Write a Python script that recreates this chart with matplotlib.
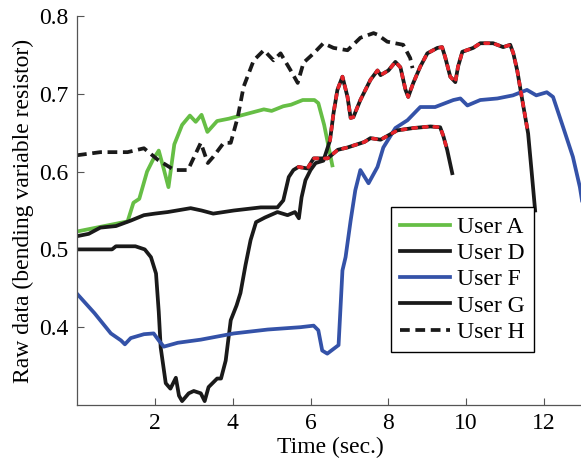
import numpy as np
import matplotlib.pyplot as plt

plt.rcParams['font.family'] = ['Liberation Serif', 'DejaVu Serif']
plt.rcParams['mathtext.fontset'] = 'stix'

# User A (green)
a_x = [0, 0.4, 0.8, 1.3, 1.45, 1.6, 1.8, 1.95, 2.1, 2.22, 2.35, 2.5, 2.7, 2.9,
       3.05, 3.2, 3.35, 3.6, 3.9, 4.2, 4.5, 4.8, 5.0, 5.3, 5.5, 5.8, 6.1, 6.2,
       6.35, 6.56]
a_y = [0.523, 0.527, 0.531, 0.536, 0.56, 0.565, 0.6, 0.615, 0.627, 0.605, 0.58,
       0.635, 0.66, 0.672, 0.664, 0.673, 0.651, 0.665, 0.668, 0.672, 0.676, 0.68,
       0.678, 0.684, 0.686, 0.692, 0.692, 0.688, 0.66, 0.608]

# User D (black, drops to 0.3 then climbs)
d_x = [0, 0.5, 0.9, 1.0, 1.5, 1.74, 1.9, 2.03, 2.1, 2.15, 2.28, 2.4, 2.54, 2.62,
       2.7, 2.87, 3.0, 3.18, 3.28, 3.38, 3.6, 3.7, 3.82, 3.95, 4.1, 4.2, 4.33,
       4.46, 4.6, 4.83, 5.15, 5.41, 5.6, 5.7, 5.77, 5.87, 6.0, 6.13, 6.33, 6.5,
       6.59, 6.69, 6.82, 6.95, 7.03, 7.1, 7.28, 7.54, 7.72, 7.8, 8.0, 8.18, 8.31,
       8.44, 8.51, 8.64, 8.82, 9.0, 9.26, 9.38, 9.46, 9.59, 9.72, 9.79, 9.9,
       10.18, 10.36, 10.69, 10.95, 11.13, 11.21, 11.31, 11.44, 11.59, 11.68, 11.77]
d_y = [0.5, 0.5, 0.5, 0.504, 0.504, 0.5, 0.49, 0.469, 0.42, 0.374, 0.328, 0.321,
       0.335, 0.312, 0.305, 0.315, 0.318, 0.315, 0.305, 0.323, 0.334, 0.334,
       0.357, 0.409, 0.428, 0.444, 0.48, 0.512, 0.535, 0.541, 0.548, 0.544, 0.548,
       0.54, 0.567, 0.589, 0.602, 0.611, 0.614, 0.64, 0.675, 0.705, 0.722, 0.696,
       0.669, 0.67, 0.692, 0.718, 0.73, 0.724, 0.73, 0.741, 0.734, 0.705, 0.696,
       0.714, 0.735, 0.752, 0.759, 0.76, 0.747, 0.722, 0.715, 0.735, 0.754, 0.759,
       0.765, 0.765, 0.76, 0.763, 0.752, 0.73, 0.692, 0.649, 0.6, 0.55]
d_red = (6.45, 11.6)

# User F (blue)
f_x = [0, 0.45, 0.87, 1.13, 1.23, 1.38, 1.72, 1.97, 2.1, 2.23, 2.59, 3.18, 4.03,
       4.9, 5.74, 6.08, 6.2, 6.3, 6.43, 6.72, 6.82, 6.9, 7.03, 7.15, 7.28, 7.49,
       7.72, 7.87, 8.18, 8.49, 8.82, 9.2, 9.67, 9.85, 10.03, 10.36, 10.8, 11.2,
       11.56, 11.8, 12.07, 12.23, 12.49, 12.74, 12.92, 13.0]
f_y = [0.443, 0.418, 0.392, 0.383, 0.378, 0.386, 0.391, 0.392, 0.383, 0.375,
       0.38, 0.384, 0.392, 0.397, 0.4, 0.402, 0.396, 0.37, 0.366, 0.377, 0.473,
       0.49, 0.537, 0.576, 0.602, 0.585, 0.606, 0.631, 0.656, 0.666, 0.683, 0.683,
       0.692, 0.694, 0.685, 0.692, 0.694, 0.698, 0.705, 0.698, 0.702, 0.696,
       0.657, 0.619, 0.58, 0.555]

# User G (black, flat near 0.55)
g_x = [0, 0.3, 0.6, 1.0, 1.38, 1.72, 2.0, 2.33, 2.92, 3.2, 3.5, 4.03, 4.72, 5.15,
       5.3, 5.44, 5.56, 5.69, 5.92, 6.08, 6.26, 6.44, 6.7, 6.95, 7.38, 7.54, 7.8,
       8.23, 8.64, 9.08, 9.33, 9.41, 9.51, 9.64]
g_y = [0.517, 0.52, 0.528, 0.53, 0.537, 0.544, 0.546, 0.548, 0.553, 0.55, 0.546,
       0.55, 0.554, 0.554, 0.563, 0.593, 0.602, 0.606, 0.604, 0.617, 0.617, 0.617,
       0.628, 0.631, 0.638, 0.643, 0.641, 0.653, 0.656, 0.658, 0.657, 0.646,
       0.628, 0.598]
g_red = (5.67, 9.62)

# User H (black dashed)
h_x = [0, 0.6, 1.3, 1.72, 2.08, 2.5, 2.85, 3.18, 3.36, 3.5, 3.77, 3.95, 4.13,
       4.28, 4.54, 4.8, 5.05, 5.23, 5.49, 5.67, 5.82, 6.08, 6.33, 6.59, 6.95,
       7.28, 7.62, 7.72, 7.97, 8.38, 8.56, 8.62]
h_y = [0.621, 0.625, 0.625, 0.63, 0.615, 0.602, 0.602, 0.637, 0.611, 0.619,
       0.637, 0.637, 0.67, 0.709, 0.743, 0.756, 0.743, 0.752, 0.73, 0.714, 0.74,
       0.752, 0.765, 0.759, 0.756, 0.772, 0.778, 0.776, 0.767, 0.763, 0.746, 0.733]

green = '#66be45'
blue = '#3452a8'
red = '#e8232a'
black = '#1a1a1a'
lw = 2.7

fig = plt.figure(figsize=(5.81, 4.61), dpi=100)
ax = fig.add_axes([77 / 581, 56 / 461, 506 / 581, 389 / 461])

ax.plot(a_x, a_y, color=green, lw=lw, label='User A')
ax.plot(d_x, d_y, color=black, lw=lw, label='User D')
ax.plot(f_x, f_y, color=blue, lw=lw, label='User F')
ax.plot(g_x, g_y, color=black, lw=lw, label='User G')
ax.plot(h_x, h_y, color=black, lw=lw, ls=(0, (2.6, 1.5)), label='User H')

# red dotted overlay on parts of D and G
for xs, ys, (lo, hi) in [(d_x, d_y, d_red), (g_x, g_y, g_red)]:
    xs = np.array(xs)
    ys = np.array(ys)
    m = (xs >= lo) & (xs <= hi)
    ax.plot(xs[m], ys[m], color=red, lw=lw * 0.95, ls=(0, (1.0, 2.0)),
            dash_capstyle='round')

ax.set_xlim(0, 13)
ax.set_ylim(0.3, 0.8)
ax.set_xticks([2, 4, 6, 8, 10, 12])
ax.set_yticks([0.4, 0.5, 0.6, 0.7, 0.8])
ax.set_yticklabels(['0.4', '0.5', '0.6', '0.7', '0.8'])
ax.spines['top'].set_visible(False)
ax.spines['right'].set_visible(False)
for s in ['left', 'bottom']:
    ax.spines[s].set_color('#555555')
    ax.spines[s].set_linewidth(0.9)
ax.tick_params(direction='in', length=5, width=0.8, color='#555555',
               labelsize=17, pad=6)
ax.set_xlabel('Time (sec.)', fontsize=17, labelpad=2)
ax.set_ylabel('Raw data (bending variable resistor)', fontsize=17, labelpad=4)

leg = ax.legend(loc='upper left', bbox_to_anchor=(391 / 581, 1 - 207 / 461),
                bbox_transform=fig.transFigure, borderaxespad=0, fontsize=17,
                fancybox=False, framealpha=1, edgecolor='black',
                handlelength=2.1, handletextpad=0.3, labelspacing=0.2,
                borderpad=0.4)
leg.get_frame().set_linewidth(1.0)

fig.savefig('out.png', dpi=100)
